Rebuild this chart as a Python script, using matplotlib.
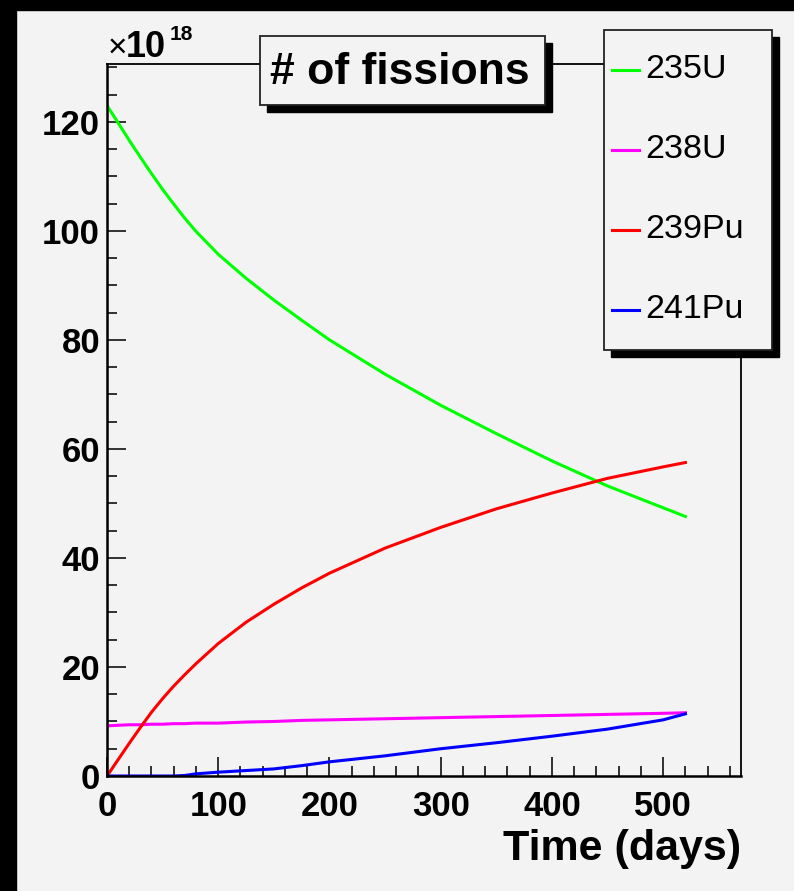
import numpy as np
import matplotlib
matplotlib.use("Agg")
import matplotlib.pyplot as plt
from matplotlib.patches import Rectangle
from matplotlib.lines import Line2D

plt.rcParams['font.family'] = ['Liberation Sans', 'DejaVu Sans']

# Data (units of 1e18 fissions)
days = [0, 10, 20, 30, 40, 50, 60, 70, 80, 100, 125, 150, 175, 200, 250, 300, 350, 400, 450, 500, 520]
u235 = [123, 119.8, 116.6, 113.5, 110.5, 107.6, 104.9, 102.3, 99.9, 95.7, 91.3, 87.3, 83.6, 80.0,
        73.7, 68.0, 62.8, 57.8, 53.2, 49.2, 47.6]
u238 = [9.2, 9.3, 9.4, 9.4, 9.5, 9.5, 9.6, 9.6, 9.7, 9.7, 9.9, 10.0, 10.2, 10.3,
        10.5, 10.7, 10.9, 11.1, 11.3, 11.5, 11.6]
pu239 = [0, 3.0, 6.0, 8.9, 11.7, 14.2, 16.5, 18.6, 20.6, 24.3, 28.2, 31.5, 34.5, 37.2,
         41.8, 45.6, 49.0, 51.9, 54.6, 56.7, 57.5]
pu241 = [0, 0, 0, 0, 0, 0, 0, 0.1, 0.4, 0.7, 1.0, 1.3, 1.9, 2.6,
         3.7, 5.0, 6.1, 7.3, 8.6, 10.3, 11.4]

labels = ["235U", "238U", "239Pu", "241Pu"]
colors = ["#00ff00", "#ff00ff", "#ff0000", "#0000ff"]
series = [u235, u238, pu239, pu241]

W, H = 794, 891
bg = "#f3f3f3"

def fx(x):
    return x / W

def fy(y):
    return 1 - y / H

fig = plt.figure(figsize=(W / 100, H / 100), dpi=100, facecolor=bg)

# black borders at top and left
fig.add_artist(Rectangle((0, fy(10)), 1, 10 / H, transform=fig.transFigure, color="black", zorder=5))
fig.add_artist(Rectangle((0, 0), 16 / W, 1, transform=fig.transFigure, color="black", zorder=5))

ax = fig.add_axes([fx(107), fy(776), (741 - 107) / W, (776 - 64) / H])
ax.set_facecolor(bg)

for vals, c in zip(series, colors):
    ax.plot(days, vals, color=c, lw=2.2)

ax.set_xlim(0, 570)
ax.set_ylim(0, 130.6)
ax.set_xticks(np.arange(0, 501, 100))
ax.set_xticks(np.arange(0, 561, 20), minor=True)
ax.set_yticks(np.arange(0, 121, 20))
ax.set_yticks(np.arange(0, 131, 5), minor=True)
ax.tick_params(which="both", direction="in", top=False, right=False, width=1.3, color="#222222")
ax.tick_params(which="major", length=14)
ax.tick_params(which="minor", length=7.5)
ax.tick_params(axis="x", which="major", pad=10, labelsize=25)
ax.tick_params(axis="y", which="major", pad=5, labelsize=25)
for t in ax.get_xticklabels() + ax.get_yticklabels():
    t.set_fontweight("bold")
for side in ["left", "bottom"]:
    ax.spines[side].set_linewidth(1.8)
for side in ["top", "right"]:
    ax.spines[side].set_linewidth(1.3)

ax.set_xlabel("Time (days)", fontsize=31, fontweight="bold", loc="right")
ax.xaxis.set_label_coords(1.0, -0.074)

# exponent label
fig.text(fx(108), fy(57), "\u00d7", fontsize=24, va="baseline", ha="left")
fig.text(fx(126), fy(57), "10", fontsize=26, fontweight="bold", va="baseline", ha="left")
fig.text(fx(170), fy(40), "18", fontsize=15, fontweight="bold", va="baseline", ha="left")

# title box with shadow
sh = 7
fig.add_artist(Rectangle((fx(260 + sh), fy(105 + sh)), 285 / W, 69 / H, transform=fig.transFigure,
                         color="black", zorder=3))
fig.add_artist(Rectangle((fx(260), fy(105)), 285 / W, 69 / H, transform=fig.transFigure,
                         facecolor=bg, edgecolor="#222222", lw=1.3, zorder=4))
fig.text(fx(400), fy(72), "# of fissions", fontsize=32, fontweight="bold", ha="center", va="center", zorder=6)

# legend box with shadow
lx0, lx1, ly0, ly1 = 604, 772, 30, 350
fig.add_artist(Rectangle((fx(lx0 + sh), fy(ly1 + sh)), (lx1 - lx0) / W, (ly1 - ly0) / H,
                         transform=fig.transFigure, color="black", zorder=3))
fig.add_artist(Rectangle((fx(lx0), fy(ly1)), (lx1 - lx0) / W, (ly1 - ly0) / H,
                         transform=fig.transFigure, facecolor=bg, edgecolor="#222222", lw=1.3, zorder=4))
for i, (lab, c) in enumerate(zip(labels, colors)):
    yy = 70 + 80 * i
    fig.add_artist(Line2D([fx(612), fx(639)], [fy(yy), fy(yy)], transform=fig.transFigure,
                          color=c, lw=2.2, zorder=6))
    fig.text(fx(645), fy(yy), lab, fontsize=24.5, ha="left", va="center", zorder=6)

fig.savefig("out.png", dpi=100, facecolor=bg)
